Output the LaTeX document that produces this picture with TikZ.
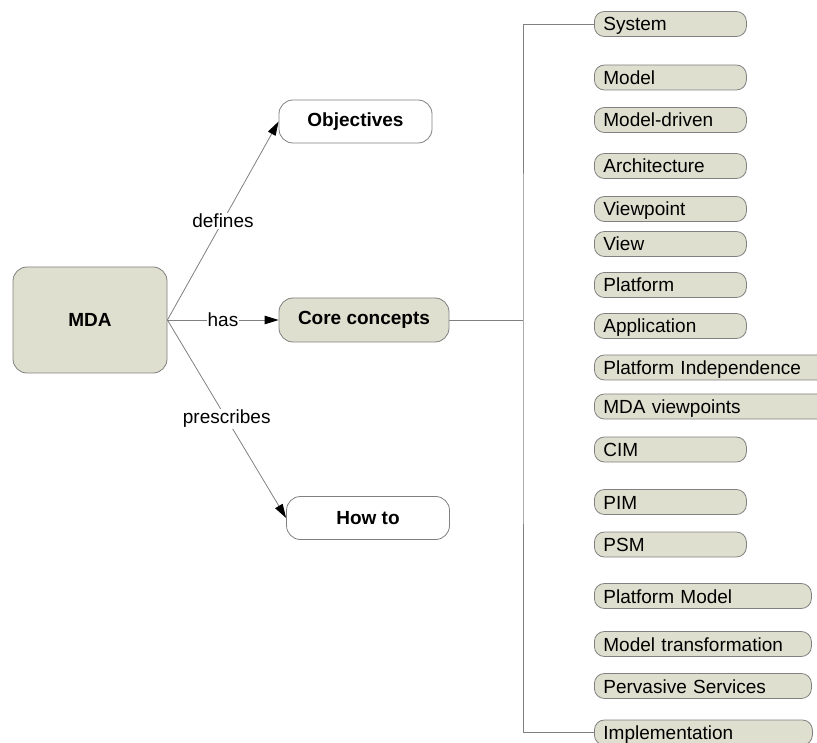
\documentclass[tikz,border=0pt]{standalone}
\usepackage{fontspec}
\setmainfont{Liberation Sans}
\usetikzlibrary{arrows.meta}
\definecolor{conceptfill}{RGB}{223,223,207}
\definecolor{linegray}{RGB}{128,128,128}
\begin{document}
\begin{tikzpicture}[x=1pt,y=-1pt,
  mainbox/.style={draw=linegray, line width=0.8pt, rounded corners=14pt,
    font=\fontsize{19}{21}\selectfont\bfseries, inner sep=0pt},
  pill/.style={draw=linegray, line width=0.8pt, fill=conceptfill,
    rounded corners=10pt, anchor=west, minimum height=25pt,
    inner xsep=9pt, inner ysep=0pt, text height=16pt, text depth=2pt,
    text width=#1-18pt, align=left, font=\fontsize{19}{21}\selectfont},
  pill/.default=152pt,
  conn/.style={draw=linegray, line width=0.8pt},
  arr/.style={conn, -{Triangle[length=14pt,width=8.5pt,color=black]}},
  lab/.style={fill=white, inner sep=1pt, font=\fontsize{19}{21}\selectfont}
]
\useasboundingbox (0,0) rectangle (817,743);
\clip (0,0) rectangle (817,743);

% main nodes
\node[mainbox, fill=conceptfill, minimum width=154pt, minimum height=106pt] (mda) at (90,320) {MDA};
\node[mainbox, fill=white, minimum width=153pt, minimum height=43pt] (obj) at (355.5,121.5) {Objectives};
\node[mainbox, fill=conceptfill, minimum width=170pt, minimum height=44pt] (core) at (364,320) {Core concepts};
\node[mainbox, fill=white, minimum width=163pt, minimum height=43pt] (howto) at (368,518) {How to};

% relations from MDA
\draw[arr] (mda.east) -- node[lab] {defines} (obj.west);
\draw[arr] (mda.east) -- node[lab] {has} (core.west);
\draw[arr] (mda.east) -- node[lab] {prescribes} (howto.west);

% core concepts
\node[pill] (c1) at (594,24) {System};
\node[pill] (c2) at (594,77.5) {Model};
\node[pill] (c3) at (594,120) {Model-driven};
\node[pill] (c4) at (594,166) {Architecture};
\node[pill] (c5) at (594,209) {Viewpoint};
\node[pill] (c6) at (594,244) {View};
\node[pill] (c7) at (594,285) {Platform};
\node[pill] (c8) at (594,326) {Application};
\node[pill=240pt] (c9) at (594,367.5) {Platform Independence};
\node[pill=240pt] (c10) at (594,406.5) {MDA viewpoints};
\node[pill] (c11) at (594,449.5) {CIM};
\node[pill] (c12) at (594,502) {PIM};
\node[pill] (c13) at (594,544.5) {PSM};
\node[pill=217pt] (c14) at (594,596) {Platform Model};
\node[pill=217pt] (c15) at (594,644) {Model transformation};
\node[pill=217pt] (c16) at (594,686) {Pervasive Services};
\node[pill=218pt] (c17) at (594,732.5) {Implementation};

% bracket joining the concepts
\coordinate (trunk) at (523,320);
\draw[conn] (core.east) -- (trunk);
\draw[conn] (c1.west) -| (trunk) |- (c17.west);
\end{tikzpicture}
\end{document}
